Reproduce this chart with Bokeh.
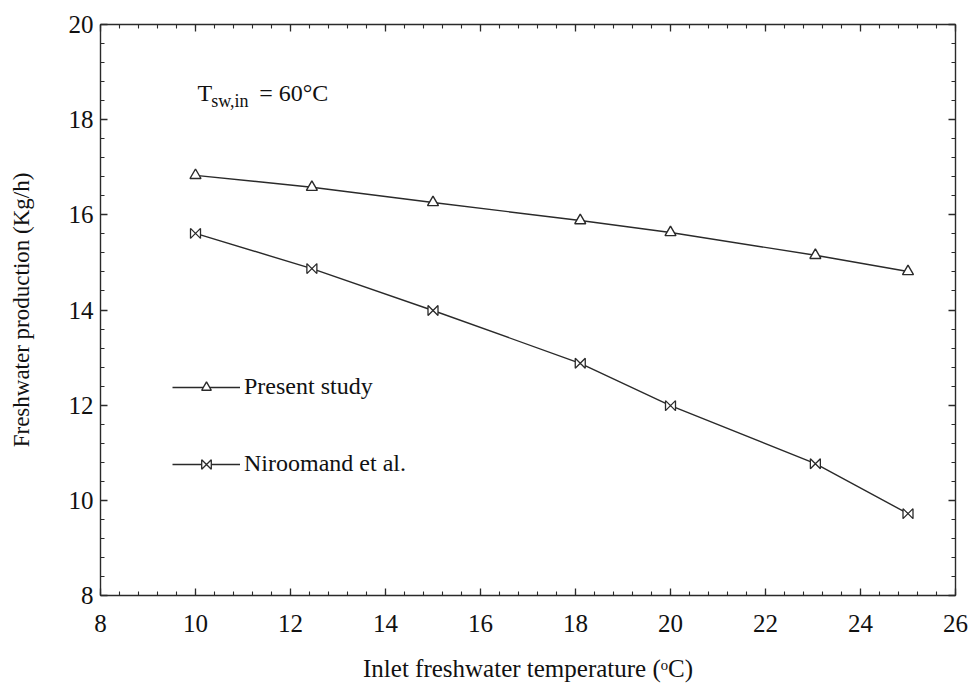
from bokeh.plotting import figure
from bokeh.models import (LinearAxis, SingleIntervalTicker, Range1d, Legend,
                          LegendItem, Label, CustomJS)
from bokeh.embed import file_html
from bokeh.resources import INLINE

# ---- data ----
inlet_temperature = [10, 12.45, 15, 18.1, 20, 23.05, 25]
present_study = [16.83, 16.58, 16.26, 15.88, 15.63, 15.15, 14.81]
niroomand = [15.61, 14.87, 13.99, 12.88, 11.99, 10.77, 9.72]
x_tick_values = [8, 10, 12, 14, 16, 18, 20, 22, 24, 26]
y_tick_values = [8, 10, 12, 14, 16, 18, 20]
series_labels = ["Present study", "Niroomand et al."]

FONT = "Liberation Serif"
INK = "#2a2a2a"

p = figure(width=970, height=686, x_range=Range1d(8, 26), y_range=Range1d(8, 20),
           output_backend="svg", toolbar_location=None,
           min_border_left=100, min_border_right=15, min_border_top=24,
           min_border_bottom=91, x_axis_location=None, y_axis_location=None)
p.grid.visible = False
p.outline_line_color = None


def style_axis(ax, ticks, show_labels):
    ax.ticker = SingleIntervalTicker(interval=2, num_minor_ticks=5)
    ax.axis_line_color = INK
    ax.axis_line_width = 1.4
    ax.major_tick_line_color = INK
    ax.minor_tick_line_color = INK
    ax.major_tick_line_width = 1.3
    ax.minor_tick_line_width = 1.1
    ax.major_tick_in = 7
    ax.major_tick_out = 0
    ax.minor_tick_in = 4
    ax.minor_tick_out = 0
    ax.major_label_text_font = FONT
    ax.major_label_text_font_size = "25px"
    ax.major_label_text_color = "#111111"
    ax.axis_label_text_font = FONT
    ax.axis_label_text_font_style = "normal"
    ax.axis_label_text_color = "#111111"
    if not show_labels:
        ax.major_label_overrides = {v: "" for v in ticks}
        ax.major_label_standoff = 0


xb = LinearAxis(axis_label="Inlet freshwater temperature (\u1d52C)")
style_axis(xb, x_tick_values, True)
xb.major_label_standoff = 19
xb.axis_label_standoff = 20
xb.axis_label_text_font_size = "25px"
p.add_layout(xb, "below")

yl = LinearAxis(axis_label="Freshwater production (Kg/h)")
style_axis(yl, y_tick_values, True)
yl.major_label_standoff = 7
yl.axis_label_standoff = 32
yl.axis_label_text_font_size = "23px"
p.add_layout(yl, "left")

xt = LinearAxis()
style_axis(xt, x_tick_values, False)
p.add_layout(xt, "above")

yr = LinearAxis()
style_axis(yr, y_tick_values, False)
p.add_layout(yr, "right")

# ---- series ----
l1 = p.line(inlet_temperature, present_study, line_color=INK, line_width=1.4)
s1 = p.scatter(inlet_temperature, present_study, marker="triangle", size=11,
               line_color=INK, fill_color="white", line_width=1.4)
l2 = p.line(inlet_temperature, niroomand, line_color=INK, line_width=1.4)

bowtie = CustomJS(code="""
const d = cb_data || {};
const ctx = d.ctx;
const r = d.r;
const i = d.i;
const v = d.visuals;
if (ctx != null && r != null) {
  ctx.beginPath();
  ctx.moveTo(-r, -r);
  ctx.lineTo(r, r);
  ctx.lineTo(r, -r);
  ctx.lineTo(-r, r);
  ctx.closePath();
  if (v != null) {
    if (v.fill != null && v.fill.apply != null) { v.fill.apply(ctx, i); }
    if (v.line != null && v.line.apply != null) { v.line.apply(ctx, i); }
  }
}
""")

s2 = p.scatter(inlet_temperature, niroomand, marker="@bowtie",
               defs={"@bowtie": bowtie},
               size=10, line_color=INK, fill_color="white", line_width=1.3)

legend = Legend(items=[LegendItem(label=series_labels[0], renderers=[l1, s1]),
                       LegendItem(label=series_labels[1], renderers=[l2, s2])],
                location=(72, 118), orientation="vertical",
                glyph_width=68, glyph_height=24, label_height=24,
                spacing=50, label_standoff=4, padding=0, margin=0,
                border_line_alpha=0, background_fill_alpha=0,
                label_text_font=FONT, label_text_font_size="24px",
                label_text_color="#111111")
p.add_layout(legend)

# ---- annotation T_sw,in = 60°C ----
p.add_layout(Label(x=10.04, y=18.55, text="T", text_font=FONT,
                   text_font_size="24px", text_color="#111111",
                   text_baseline="alphabetic"))
p.add_layout(Label(x=10.33, y=18.40, text="sw,in", text_font=FONT,
                   text_font_size="18px", text_color="#111111",
                   text_baseline="alphabetic"))
p.add_layout(Label(x=11.34, y=18.55, text="= 60\u00b0C", text_font=FONT,
                   text_font_size="24px", text_color="#111111",
                   text_baseline="alphabetic"))

open("out.html", "w").write(file_html(p, INLINE))
